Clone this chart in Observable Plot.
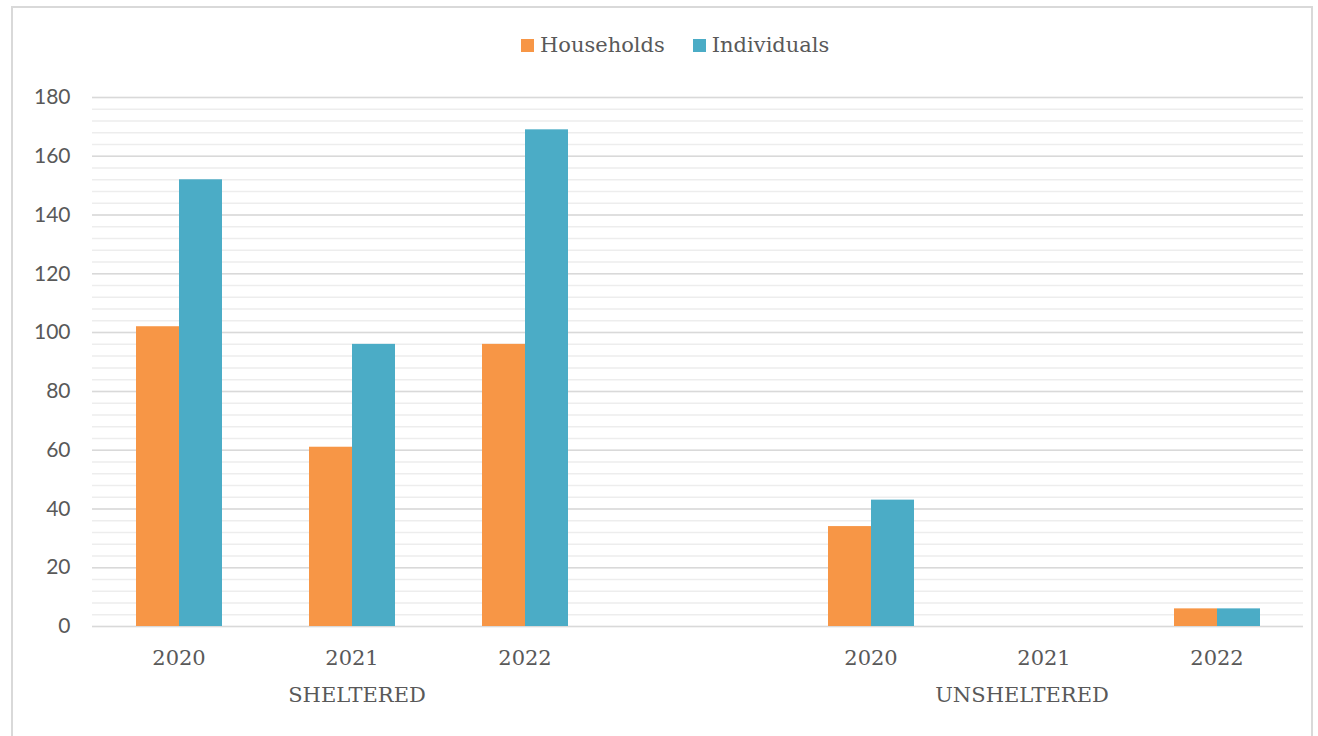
<!DOCTYPE html>
<html>
<head>
<meta charset="utf-8">
<script src="https://cdn.jsdelivr.net/npm/d3@7"></script>
<script src="https://cdn.jsdelivr.net/npm/@observablehq/plot@0.6"></script>
<style>
  html, body { margin: 0; padding: 0; background: #fff; }
  #page { position: relative; width: 1318px; height: 736px; overflow: hidden; }
  #frame { position: absolute; left: 11px; top: 6px; width: 1302px; height: 760px; border: 2px solid #d9d9d9; box-sizing: border-box; }
  #legend { position: absolute; left: 521px; top: 31px; height: 28px; display: flex; align-items: center;
            font-family: "DejaVu Serif", serif; font-size: 21px; color: #595959; white-space: nowrap; }
  #legend .item { display: flex; align-items: center; margin-right: 28px; }
  #legend .sw { width: 13px; height: 13px; margin-right: 6px; }
  #chart { position: absolute; left: 0; top: 70px; }
</style>
</head>
<body>
<div id="page">
  <div id="frame"></div>
  <div id="legend"></div>
  <div id="chart"></div>
</div>
<script>
// Category slots along the x axis (one empty slot separates the two groups)
const slots = ["S2020", "S2021", "S2022", "gap", "U2020", "U2021", "U2022"];
const slotLabels = ["2020", "2021", "2022", "", "2020", "2021", "2022"];
const groupLabels = ["SHELTERED", "UNSHELTERED"];

// Series
const series = ["Households", "Individuals"];
const colors = ["#F79646", "#4BACC6"];
const households = [102, 61, 96, null, 34, 0, 6];
const individuals = [152, 96, 169, null, 43, 0, 6];

// Y ticks
const majorTicks = [0, 20, 40, 60, 80, 100, 120, 140, 160, 180];
const minorTicks = d3.range(0, 181, 4);

// Long table for the grouped bars (the spacer slot keeps its own empty rows)
const rows = [];
slots.forEach((s, i) => {
  rows.push({slot: s, series: series[0], value: households[i]});
  rows.push({slot: s, series: series[1], value: individuals[i]});
});
const labelOf = new Map(slots.map((s, i) => [s, slotLabels[i]]));

const font = "DejaVu Serif, serif";

const chart = Plot.plot({
  width: 1318,
  height: 666,
  marginLeft: 90,
  marginRight: 13,
  marginTop: 27,
  marginBottom: 110,
  style: {background: "transparent"},
  fx: {domain: slots, padding: 0, axis: null},
  x: {domain: series, paddingInner: 0, paddingOuter: 1, axis: null},
  y: {domain: [0, 180], axis: null},
  color: {domain: series, range: colors},
  marks: [
    Plot.ruleY(minorTicks, {stroke: "#ededed", strokeWidth: 1.5}),
    Plot.ruleY(majorTicks, {stroke: "#d9d9d9", strokeWidth: 1.5}),
    Plot.barY(rows, {fx: "slot", x: "series", y: "value", fill: "series"}),
    Plot.axisY({ticks: majorTicks, tickSize: 0, tickPadding: 22, fontSize: 21,
                fontFamily: "Lato, sans-serif", fill: "#595959", label: null}),
    Plot.axisFx({anchor: "bottom", tickSize: 0, tickPadding: 24, label: null,
                 tickFormat: d => labelOf.get(d), fontSize: 21,
                 fontFamily: font, fill: "#595959"}),
    Plot.text([{slot: "S2021", label: groupLabels[0]}], {
      fx: "slot", text: "label", frameAnchor: "bottom", dy: 69, dx: 5,
      lineAnchor: "middle", fontSize: 21, fontFamily: font, fill: "#595959"}),
    Plot.text([{slot: "U2021", label: groupLabels[1]}], {
      fx: "slot", text: "label", frameAnchor: "bottom", dy: 69, dx: -22,
      lineAnchor: "middle", fontSize: 21, fontFamily: font, fill: "#595959"})
  ]
});
document.getElementById("chart").appendChild(chart);

// Legend
const legend = document.getElementById("legend");
series.forEach((name, i) => {
  const item = document.createElement("div");
  item.className = "item";
  const sw = document.createElement("div");
  sw.className = "sw";
  sw.style.background = colors[i];
  const label = document.createElement("span");
  label.textContent = name;
  item.appendChild(sw);
  item.appendChild(label);
  legend.appendChild(item);
});
</script>
</body>
</html>
